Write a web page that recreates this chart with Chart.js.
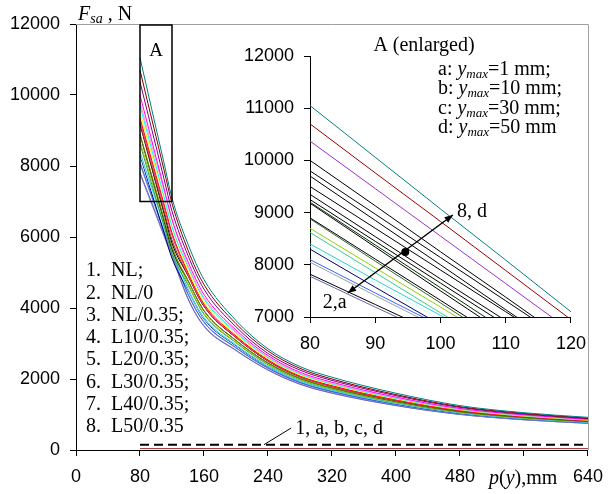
<!DOCTYPE html>
<html>
<head>
<meta charset="utf-8">
<script src="https://cdn.jsdelivr.net/npm/chart.js@4"></script>
<style>
    body { margin: 0; background: #fff; }
    #wrap { position: relative; width: 613px; height: 494px; }
    #main { position: absolute; left: 0; top: 0; }
    #inset { position: absolute; left: 240px; top: 24px; }
</style>
</head>
<body>
<div id="wrap">
    <canvas id="main" width="613" height="494"></canvas>
    <canvas id="inset" width="356" height="340"></canvas>
</div>
<script>
// p(y), mm
const pPoints = [80, 90, 100, 110, 120, 140, 160, 200, 240, 280, 320, 400, 480, 560, 640];

// F_sa, N  (top curve first)
const curve01 = [11050, 10060, 9070, 8090, 7100, 5800, 4800, 3650, 2850, 2350, 2050, 1600, 1250, 1050, 920];
const curve02 = [10700, 9760, 8830, 7890, 6950, 5630, 4660, 3560, 2790, 2300, 2000, 1560, 1220, 1030, 900];
const curve03 = [10370, 9460, 8550, 7640, 6730, 5480, 4530, 3470, 2720, 2250, 1960, 1530, 1200, 1010, 885];
const curve04 = [10000, 9130, 8250, 7380, 6500, 5300, 4380, 3380, 2660, 2190, 1910, 1490, 1170, 990, 865];
const curve05 = [9800, 8970, 8140, 7310, 6480, 5210, 4300, 3330, 2620, 2160, 1880, 1470, 1155, 975, 855];
const curve06 = [9700, 8850, 8000, 7140, 6290, 5160, 4250, 3300, 2600, 2140, 1860, 1455, 1147, 967, 850];
const curve07 = [9500, 8700, 7900, 7100, 6300, 5070, 4170, 3250, 2570, 2110, 1840, 1435, 1132, 955, 840];
const curve08 = [9350, 8540, 7730, 6930, 6120, 5000, 4110, 3210, 2540, 2090, 1815, 1420, 1120, 946, 832];
const curve09 = [9250, 8450, 7650, 6850, 6050, 4950, 4070, 3180, 2520, 2075, 1800, 1408, 1113, 940, 827];
const curve10 = [9200, 8380, 7560, 6740, 5920, 4920, 4050, 3170, 2510, 2067, 1795, 1402, 1109, 937, 824];
const curve11 = [9180, 8340, 7500, 6670, 5830, 4910, 4045, 3165, 2505, 2064, 1793, 1400, 1107, 936, 823];
const curve12 = [8900, 8110, 7320, 6520, 5730, 4780, 3930, 3090, 2455, 2022, 1754, 1370, 1086, 919, 808];
const curve13 = [8880, 8070, 7270, 6460, 5650, 4770, 3920, 3085, 2452, 2018, 1751, 1368, 1084, 917, 807];
const curve14 = [8700, 7940, 7190, 6430, 5680, 4690, 3850, 3040, 2420, 1991, 1726, 1348, 1070, 906, 798];
const curve15 = [8620, 7850, 7080, 6310, 5540, 4650, 3820, 3020, 2404, 1979, 1716, 1340, 1064, 901, 794];
const curve16 = [8400, 7710, 7030, 6340, 5660, 4545, 3730, 2960, 2364, 1945, 1686, 1317, 1048, 888, 782];
const curve17 = [8350, 7650, 6960, 6260, 5570, 4520, 3710, 2950, 2354, 1937, 1678, 1311, 1044, 885, 780];
const curve18 = [8300, 7570, 6850, 6120, 5400, 4500, 3690, 2935, 2345, 1930, 1672, 1306, 1040, 882, 777];
const curve19 = [8100, 7460, 6830, 6190, 5560, 4400, 3610, 2883, 2309, 1899, 1644, 1284, 1025, 870, 767];
const curve20 = [8050, 7410, 6780, 6140, 5510, 4380, 3590, 2871, 2300, 1892, 1637, 1279, 1021, 867, 764];
const curve21 = [7820, 7240, 6660, 6070, 5490, 4270, 3500, 2810, 2257, 1856, 1605, 1254, 1003, 852, 752];
const curve22 = [7780, 7190, 6610, 6020, 5440, 4250, 3480, 2800, 2250, 1850, 1600, 1250, 1000, 850, 750];

const curves = [curve01, curve02, curve03, curve04, curve05, curve06, curve07, curve08, curve09, curve10, curve11,
    curve12, curve13, curve14, curve15, curve16, curve17, curve18, curve19, curve20, curve21, curve22];

const mainColors = ['#008080', '#800000', '#800080', '#ff00ff', '#ff99cc', '#00ffff', '#ffff00', '#ff0000',
    '#ff3399', '#993300', '#000000', '#808000', '#003300', '#99cc00', '#339966', '#33cccc', '#99ffff',
    '#000080', '#3366ff', '#969696', '#6666cc', '#8080c0'];
const insetColors = ['#008080', '#990000', '#9933cc', '#000000', '#000000', '#000000', '#000000', '#000000',
    '#000000', '#003300', '#000000', '#000000', '#336633', '#99cc00', '#33cc99', '#33cccc', '#ccffff',
    '#000066', '#3366ff', '#a0a0a0', '#000000', '#6666aa'];

// curve 1 (dashed) and the line near zero
const dashedP = [80, 640];
const dashedF = [150, 150];
const zeroP = [80, 640];
const zeroF = [40, 40];

const mainXTicks = [0, 80, 160, 240, 320, 400, 480, 560, 640];
const legendNames = ['NL;', 'NL/0', 'NL/0.35;', 'L10/0.35;', 'L20/0.35;', 'L30/0.35;', 'L40/0.35;', 'L50/0.35'];
const yMaxLetters = ['a', 'b', 'c', 'd'];
const yMaxValues = ['1 mm;', '10 mm;', '30 mm;', '50 mm'];

// box "A" in data units, and the inset arrow
const boxA = { x0: 80, x1: 120, y0: 7000, y1: 12000 };
const arrowTail = [85.8, 7460];
const arrowTip = [101.9, 8954];
const arrowDot = [94.6, 8245];
const leaderFrom = [235, 150];
const leaderTo = [269, 620];

const SANS = "'Liberation Sans', Arial, sans-serif";
const SERIF = "'Liberation Serif', 'Times New Roman', serif";

function toPoints(xs, ys) {
    return xs.map((x, i) => ({ x: x, y: ys[i] }));
}

function drawRuns(ctx, x, y, runs) {
    ctx.textBaseline = 'alphabetic';
    ctx.textAlign = 'left';
    runs.forEach(([text, font, dy]) => {
        ctx.font = font;
        ctx.fillText(text, x, y + dy);
        x += ctx.measureText(text).width;
    });
}

function arrowHead(ctx, fx, fy, tx, ty, size) {
    const ang = Math.atan2(ty - fy, tx - fx);
    ctx.beginPath();
    ctx.moveTo(tx, ty);
    ctx.lineTo(tx - size * Math.cos(ang - 0.38), ty - size * Math.sin(ang - 0.38));
    ctx.lineTo(tx - size * Math.cos(ang + 0.38), ty - size * Math.sin(ang + 0.38));
    ctx.closePath();
    ctx.fill();
}

const mainOverlay = {
    id: 'mainOverlay',
    afterDraw(chart) {
        const { ctx, chartArea: a, scales: { x, y } } = chart;
        ctx.save();
        // grey frame on top and right
        ctx.strokeStyle = '#a0a0a0';
        ctx.lineWidth = 1;
        ctx.beginPath();
        ctx.moveTo(a.left, a.top + 0.5);
        ctx.lineTo(a.right + 0.5, a.top + 0.5);
        ctx.lineTo(a.right + 0.5, a.bottom);
        ctx.stroke();

        // box A
        ctx.strokeStyle = '#000';
        ctx.lineWidth = 1.5;
        const bx0 = x.getPixelForValue(boxA.x0), bx1 = x.getPixelForValue(boxA.x1);
        const by0 = y.getPixelForValue(boxA.y0), by1 = y.getPixelForValue(boxA.y1);
        ctx.strokeRect(bx0, by1 + 1, bx1 - bx0, by0 - by1 - 1);
        ctx.fillStyle = '#000';
        ctx.font = '19px ' + SERIF;
        ctx.textAlign = 'center';
        ctx.textBaseline = 'middle';
        ctx.fillText('A', (bx0 + bx1) / 2, by1 + 27);

        // axis titles
        drawRuns(ctx, 78, 20, [['F', 'italic 20px ' + SERIF, 0], ['sa', 'italic 14px ' + SERIF, 3], [' , N', '20px ' + SERIF, 0]]);
        drawRuns(ctx, 489, 484, [['p', 'italic 20px ' + SERIF, 0], ['(', '20px ' + SERIF, 0], ['y', 'italic 20px ' + SERIF, 0], ['),mm', '20px ' + SERIF, 0]]);

        // legend of the variants
        ctx.font = '20px ' + SERIF;
        ctx.textAlign = 'left';
        ctx.textBaseline = 'middle';
        legendNames.forEach((name, i) => {
            const ty = 271 + i * 22.3;
            ctx.fillText((i + 1) + '.', 86, ty);
            ctx.fillText(name, 111, ty);
        });

        // leader to the dashed line
        const lx0 = x.getPixelForValue(leaderFrom[0]), ly0 = y.getPixelForValue(leaderFrom[1]);
        const lx1 = x.getPixelForValue(leaderTo[0]), ly1 = y.getPixelForValue(leaderTo[1]);
        ctx.lineWidth = 1;
        ctx.beginPath();
        ctx.moveTo(lx0, ly0);
        ctx.lineTo(lx1, ly1);
        ctx.stroke();
        ctx.fillText('1, a, b, c, d', lx1 + 4, ly1 + 1);
        ctx.restore();
    }
};

const insetOverlay = {
    id: 'insetOverlay',
    afterDraw(chart) {
        const { ctx, scales: { x, y } } = chart;
        ctx.save();
        ctx.fillStyle = '#000';
        ctx.strokeStyle = '#000';
        ctx.font = '20px ' + SERIF;
        ctx.textAlign = 'center';
        ctx.textBaseline = 'middle';
        ctx.fillText('A (enlarged)', 184, 22);

        yMaxLetters.forEach((letter, i) => {
            const ty = 51 + i * 19.3;
            drawRuns(ctx, 198, ty, [[letter + ': ', '20px ' + SERIF, 0], ['y', 'italic 20px ' + SERIF, 0],
                ['max', 'italic 13px ' + SERIF, 3], ['=' + yMaxValues[i], '20px ' + SERIF, 0]]);
        });

        const tx = x.getPixelForValue(arrowTail[0]), ty = y.getPixelForValue(arrowTail[1]);
        const hx = x.getPixelForValue(arrowTip[0]), hy = y.getPixelForValue(arrowTip[1]);
        ctx.lineWidth = 1.5;
        ctx.beginPath();
        ctx.moveTo(tx, ty);
        ctx.lineTo(hx, hy);
        ctx.stroke();
        arrowHead(ctx, tx, ty, hx, hy, 9);
        arrowHead(ctx, hx, hy, tx, ty, 9);
        ctx.beginPath();
        ctx.arc(x.getPixelForValue(arrowDot[0]), y.getPixelForValue(arrowDot[1]), 4, 0, Math.PI * 2);
        ctx.fill();

        ctx.font = '20px ' + SERIF;
        ctx.textAlign = 'left';
        ctx.textBaseline = 'middle';
        ctx.fillText('8, d', hx + 4, hy - 3);
        ctx.fillText('2,a', tx - 25, ty + 10);
        ctx.restore();
    }
};

function curveDatasets(colors, smooth) {
    return curves.map((c, i) => ({
        data: toPoints(pPoints, c),
        borderColor: colors[i],
        borderWidth: 1,
        pointRadius: 0,
        cubicInterpolationMode: smooth ? 'monotone' : 'default',
        tension: 0
    }));
}

function axisTicks(size) {
    return { color: '#000', font: { family: SANS, size: size }, callback: v => String(v) };
}

const mainDatasets = curveDatasets(mainColors, true);
mainDatasets.push({
    data: toPoints(zeroP, zeroF), borderColor: '#993333', borderWidth: 1, pointRadius: 0
});
mainDatasets.push({
    data: toPoints(dashedP, dashedF), borderColor: '#000', borderWidth: 2, borderDash: [9, 5], pointRadius: 0
});

new Chart(document.getElementById('main'), {
    type: 'line',
    data: { datasets: mainDatasets },
    options: {
        responsive: false,
        animation: false,
        devicePixelRatio: 1,
        layout: { padding: { left: 0, top: 24, right: 16, bottom: 0 } },
        plugins: { legend: { display: false }, tooltip: { enabled: false } },
        scales: {
            x: {
                type: 'linear', min: 0, max: 640,
                afterBuildTicks: s => { s.ticks = mainXTicks.map(v => ({ value: v })); },
                afterFit: s => { s.height = 44; },
                grid: { drawOnChartArea: false, tickLength: 6, color: '#000' },
                border: { color: '#000', width: 1 },
                ticks: { ...axisTicks(18), padding: 10, maxRotation: 0, autoSkip: false,
                    callback: v => v === 560 ? '' : String(v) }
            },
            y: {
                min: 0, max: 12000,
                afterFit: s => { s.width = 76; },
                grid: { drawOnChartArea: false, tickLength: 6, color: '#000' },
                border: { color: '#000', width: 1 },
                ticks: { ...axisTicks(18), padding: 10, stepSize: 2000 }
            }
        }
    },
    plugins: [mainOverlay]
});

new Chart(document.getElementById('inset'), {
    type: 'line',
    data: { datasets: curveDatasets(insetColors, false) },
    options: {
        responsive: false,
        animation: false,
        devicePixelRatio: 1,
        layout: { padding: { left: 0, top: 32, right: 25, bottom: 0 } },
        plugins: { legend: { display: false }, tooltip: { enabled: false } },
        scales: {
            x: {
                type: 'linear', min: 80, max: 120,
                afterFit: s => { s.height = 47; },
                grid: { drawOnChartArea: false, tickLength: 6, color: '#000' },
                border: { color: '#000', width: 1 },
                ticks: { ...axisTicks(18), padding: 10, stepSize: 10, maxRotation: 0 }
            },
            y: {
                min: 7000, max: 12000,
                afterFit: s => { s.width = 70; },
                grid: { drawOnChartArea: false, tickLength: 6, color: '#000' },
                border: { color: '#000', width: 1 },
                ticks: { ...axisTicks(18), padding: 10, stepSize: 1000 }
            }
        }
    },
    plugins: [insetOverlay]
});
</script>
</body>
</html>
